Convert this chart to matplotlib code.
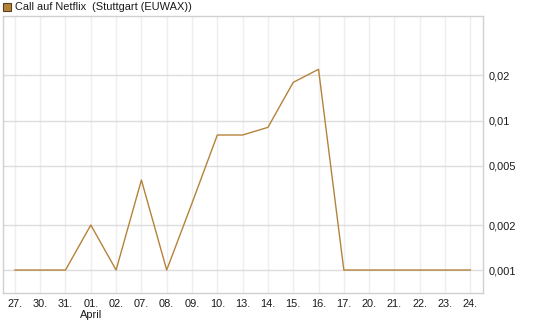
import matplotlib
matplotlib.use("Agg")
import matplotlib.pyplot as plt
from matplotlib.ticker import FixedLocator, NullLocator, FixedFormatter
from matplotlib.patches import Rectangle

plt.rcParams['font.family'] = ['Liberation Sans', 'DejaVu Sans']

dates = ["27.", "30.", "31.", "01.", "02.", "07.", "08.", "09.", "10.", "13.",
         "14.", "15.", "16.", "17.", "20.", "21.", "22.", "23.", "24."]
values = [0.001, 0.001, 0.001, 0.002, 0.001, 0.004, 0.001, 0.0028, 0.008, 0.008,
          0.009, 0.018, 0.022, 0.001, 0.001, 0.001, 0.001, 0.001, 0.001]
ytick_vals = [0.001, 0.002, 0.005, 0.01, 0.02]
ytick_labels = ["0,001", "0,002", "0,005", "0,01", "0,02"]
series_name = "Call auf Netflix  (Stuttgart (EUWAX))"
month_label = "April"

line_color = "#B5823A"
fs = 7.9

fig = plt.figure(figsize=(5.45, 3.27), dpi=100)
W, H = 545, 327
ax = fig.add_axes([3 / W, 1 - 293 / H, (483 - 3) / W, (293 - 16) / H])

x = list(range(len(dates)))
ax.plot(x, values, color=line_color, lw=1.0, zorder=3)

ax.set_yscale("log")
ax.set_ylim(0.000702, 0.05)
ax.set_xlim(-0.47, len(dates) - 0.5)

ax.yaxis.set_major_locator(FixedLocator(ytick_vals))
ax.yaxis.set_major_formatter(FixedFormatter(ytick_labels))
ax.yaxis.set_minor_locator(NullLocator())
ax.yaxis.tick_right()
ax.set_xticks(x)
ax.set_xticklabels(dates)

ax.tick_params(axis="both", length=0, labelsize=fs, colors="#1a1a1a")
ax.tick_params(axis="x", pad=4.5)
ax.tick_params(axis="y", pad=4)

ax.grid(axis="y", color="#dddddd", lw=1.0)
ax.grid(axis="x", color="#eeeeee", lw=1.0)
ax.set_axisbelow(True)
for s in ax.spines.values():
    s.set_color("#d0d0d0")
    s.set_linewidth(1.0)

# month label under 01.
ax.text(3, -(314.5 - 293) / 277, month_label, transform=ax.get_xaxis_transform(),
        ha="center", va="center", fontsize=fs, color="#1a1a1a")

# legend
fig.patches.append(Rectangle((3 / W, 1 - 11 / H), 8 / W, 8 / H,
                             transform=fig.transFigure, facecolor=line_color,
                             edgecolor="#5a4020", lw=0.8))
fig.text(15 / W, 1 - 7 / H, series_name, ha="left", va="center",
         fontsize=fs, color="#1a1a1a")

fig.savefig("out.png", dpi=100)
